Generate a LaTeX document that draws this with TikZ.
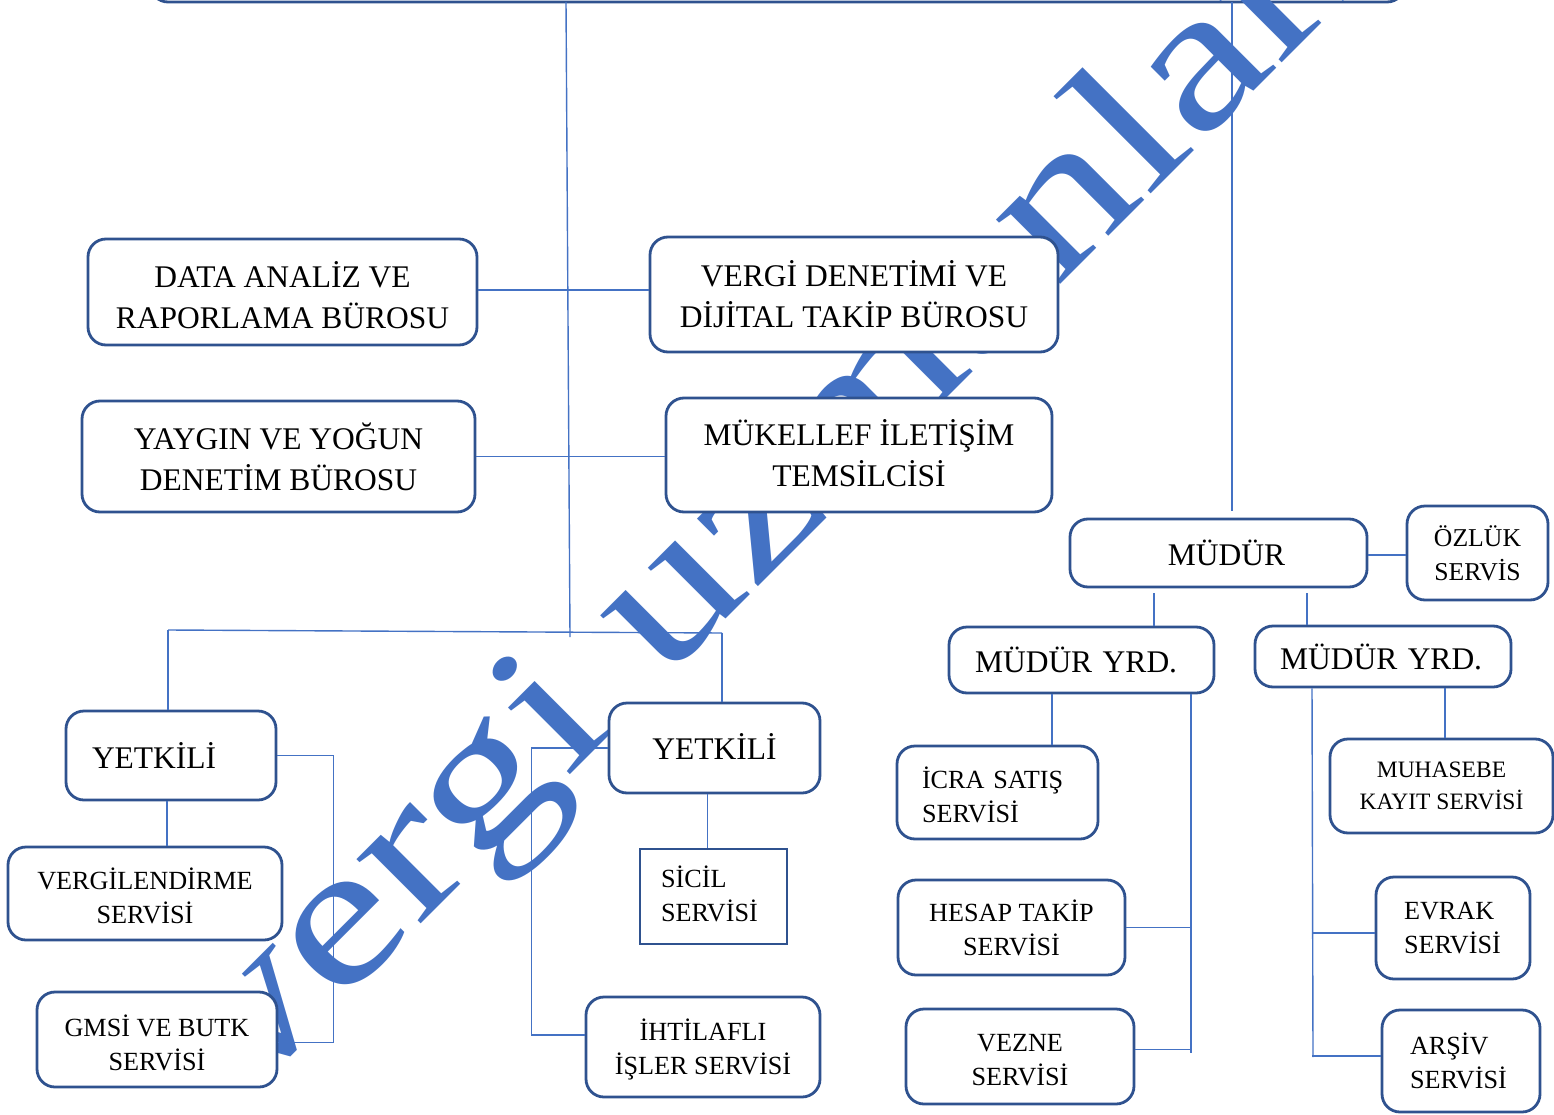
\documentclass[tikz,border=0pt]{standalone}
\usepackage{fontspec}
\usepackage{graphicx}
\setmainfont{Liberation Serif}
\usetikzlibrary{calc}
\definecolor{bordc}{HTML}{2F528F}
\definecolor{connc}{HTML}{4472C4}
\definecolor{wmc}{HTML}{4472C4}
\newcommand{\shc}[2]{\raisebox{#1}[\height][\depth]{\vbox{\halign{\hfil##\hfil\cr #2\crcr}}}}
\newcommand{\shl}[2]{\raisebox{#1}[\height][\depth]{\vbox{\halign{##\hfil\cr #2\crcr}}}}
\tikzset{
  box/.style={draw=bordc, line width=2.8pt, rounded corners=18pt, fill=white, align=center, inner sep=0pt, text=black},
  sqbox/.style={box, rounded corners=0pt},
  big/.style={font=\fontsize{31.5}{41}\selectfont},
  small/.style={font=\fontsize{26.2}{34}\selectfont},
  conn/.style={draw=connc, line width=1.4pt},
  wmark/.style={text=wmc, inner sep=0pt, font=\fontsize{198}{200}\selectfont},
}
\begin{document}
\begin{tikzpicture}[x=1pt,y=-1pt]
\useasboundingbox (0,0) rectangle (1554,1115);
\begin{scope}
\clip (0,0) rectangle (1554,1115);
% top (cut off) box
\node[box, minimum width=1255pt, minimum height=90pt] (top) at (777.5,-43) {};
% watermark
\node[wmark, rotate=45, anchor=base west] (wm) at (246,1099) {\scalebox{1.3}[1]{vergi uzmanları}};
% boxes
\node[box, small, minimum width=240pt, minimum height=95pt] (gmsi) at (157,1039.5) {\shc{-3pt}{GMSİ VE BUTK\cr SERVİSİ}};
\node[box, big, minimum width=389pt, minimum height=106pt] (data) at (282.5,292) {\shc{-3pt}{DATA ANALİZ VE\cr RAPORLAMA BÜROSU}};
\node[box, big, minimum width=408pt, minimum height=115pt] (vdt) at (854,294.5) {VERGİ DENETİMİ VE\\DİJİTAL TAKİP BÜROSU};
\node[box, big, minimum width=393pt, minimum height=111pt] (yaygin) at (278.5,456.5) {YAYGIN VE YOĞUN\\DENETİM BÜROSU};
\node[box, big, minimum width=386pt, minimum height=114pt] (mukellef) at (859,455) {\shc{2pt}{MÜKELLEF İLETİŞİM\cr TEMSİLCİSİ}};
\node[box, big, minimum width=297pt, minimum height=68pt] (mudur) at (1218.5,553) {\hspace*{16pt}MÜDÜR};
\node[box, font=\fontsize{25.7}{34}\selectfont, minimum width=141pt, minimum height=94pt] (ozluk) at (1477.5,553) {ÖZLÜK\\SERVİS};
\node[box, big, align=left, inner xsep=26pt, text width=213pt, minimum height=66pt] (myrdL) at (1081.5,660) {MÜDÜR YRD.};
\node[box, big, align=left, inner xsep=25pt, text width=206pt, minimum height=61pt] (myrdR) at (1383,656.5) {MÜDÜR YRD.};
\node[box, small, align=left, inner xsep=25pt, text width=151pt, minimum height=93pt] (icra) at (997.5,792.5) {\shl{-2pt}{İCRA SATIŞ\cr SERVİSİ}};
\node[box, small, minimum width=227pt, minimum height=95pt] (hesap) at (1011.5,927.5) {HESAP TAKİP\\SERVİSİ};
\node[box, small, minimum width=228pt, minimum height=95pt] (vezne) at (1020,1056.5) {\shc{-4pt}{VEZNE\cr SERVİSİ}};
\node[box, font=\fontsize{23.5}{32}\selectfont, minimum width=223pt, minimum height=94pt] (muhasebe) at (1441.5,786) {MUHASEBE\\KAYIT SERVİSİ};
\node[box, small, align=left, inner xsep=28pt, text width=98pt, minimum height=102pt] (evrak) at (1453,928) {EVRAK\\SERVİSİ};
\node[box, small, align=left, inner xsep=28pt, text width=102pt, minimum height=102pt] (arsiv) at (1461,1061) {ARŞİV\\SERVİSİ};
\node[box, big, align=left, inner xsep=26pt, text width=158pt, minimum height=89pt] (yetL) at (171,755.5) {YETKİLİ};
\node[box, small, minimum width=274pt, minimum height=93pt] (vergilend) at (145,893.5) {\shc{-2pt}{VERGİLENDİRME\cr SERVİSİ}};
\node[box, big, minimum width=211pt, minimum height=90pt] (yetR) at (714.5,748) {\raisebox{2pt}[\height][\depth]{YETKİLİ}};
\node[sqbox, small, align=left, inner xsep=21pt, text width=105pt, minimum height=95pt] (sicil) at (713.5,896.5) {\shl{3pt}{SİCİL\cr SERVİSİ}};
\node[box, small, minimum width=234pt, minimum height=100pt] (ihtilafli) at (703,1047) {\shc{-2pt}{İHTİLAFLI\cr İŞLER SERVİSİ}};
% connectors
\coordinate (t1) at (566,2);
\coordinate (jv) at (570,637);
\draw[conn] (t1) -- (jv);
\coordinate (hl) at (168,630);
\coordinate (hr) at (722,633);
\draw[conn] (hl) -- (hr);
\draw[conn] (hl) -- (hl |- yetL.north);
\draw[conn] (hr) -- (hr |- yetR.north);
\coordinate (de) at ($(data.east)+(0,-2)$);
\draw[conn] (de) -- (de -| vdt.west);
\draw[conn] (yaygin.east) -- (yaygin.east -| mukellef.west);
\coordinate (t2) at (1232,2);
\coordinate (t2e) at ($(t2 |- mudur.north)+(0,-7)$);
\draw[conn] (t2) -- (t2e);
\coordinate (me) at ($(mudur.east)+(0,2)$);
\draw[conn] (me) -- (me -| ozluk.west);
\coordinate (m1) at ($(mudur.south)+(-64.5,5)$);
\draw[conn] (m1) -- (m1 |- myrdL.north);
\coordinate (m2) at ($(mudur.south)+(88.5,5)$);
\draw[conn] (m2) -- (m2 |- myrdR.north);
\coordinate (l1) at ($(myrdL.south)+(-29.5,0)$);
\draw[conn] (l1) -- (l1 |- icra.north);
\coordinate (l2) at ($(myrdL.south)+(109.5,0)$);
\coordinate (l2e) at (1191,1053);
\draw[conn] (l2) -- (l2e);
\draw[conn] (hesap.east) -- (hesap.east -| l2);
\coordinate (ve) at ($(vezne.east)+(0,-7)$);
\draw[conn] (ve) -- (ve -| l2);
\coordinate (r1) at ($(myrdR.south)+(-71,0)$);
\coordinate (r1e) at (1313,1057);
\draw[conn] (r1) -- (r1e);
\coordinate (ev) at ($(evrak.west)+(0,5)$);
\draw[conn] (ev) -- (ev -| r1);
\coordinate (ar) at ($(arsiv.west)+(0,-5)$);
\draw[conn] (ar) -- (ar -| r1);
\coordinate (r2) at ($(myrdR.south)+(62,0)$);
\draw[conn] (r2) -- (r2 |- muhasebe.north);
\coordinate (yl1) at ($(yetL.south)+(-4,0)$);
\draw[conn] (yl1) -- (yl1 |- vergilend.north);
\coordinate (gm) at ($(gmsi.east)+(0,3)$);
\draw[conn] (yetL.east) -- ++(56,0) |- (gm);
\coordinate (yr1) at ($(yetR.south)+(-7,0)$);
\draw[conn] (yr1) -- (yr1 |- sicil.north);
\coordinate (ih) at ($(ihtilafli.west)+(0,-12)$);
\draw[conn] (yetR.west) -- ++(-76,0) |- (ih);
\end{scope}
\end{tikzpicture}
\end{document}
